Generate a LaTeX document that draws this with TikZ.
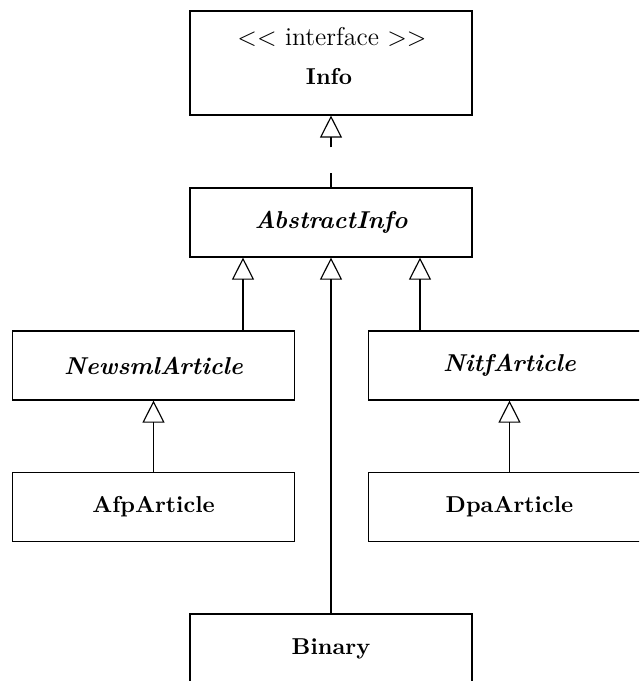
\documentclass[tikz,border=0pt]{standalone}
\usetikzlibrary{arrows.meta,calc}
\begin{document}
\begin{tikzpicture}[
  x=0.4348pt, y=-0.4348pt,
  line width=0.5pt,
  classbox/.style={draw, rectangle, minimum width=122.6pt, minimum height=30pt, inner sep=0pt, align=center},
  ifacebox/.style={classbox, minimum height=45.2pt},
  abstractname/.style={font=\fontsize{10.6pt}{13pt}\selectfont\bfseries\itshape},
  concretename/.style={font=\bfseries},
  stereotype/.style={font=\fontsize{11.2pt}{13pt}\selectfont, inner sep=0pt},
  inherit/.style={-{Triangle[open, length=9.6pt, width=9.6pt]}},
  realize/.style={inherit, dash pattern=on 6.1pt off 11.3pt}
]
\useasboundingbox (0,0) rectangle (639,681);
\clip (0,0) rectangle (639,681);

% interface box with its stereotype and name
\node[ifacebox] (info) at (331,63) {};
\node[stereotype] (infoStereo) at (332,37) {$<<$ interface $>>$};
\node[concretename, inner sep=0pt] (infoName) at (329,77) {Info};

% class boxes
\node[classbox, abstractname] (abs) at (331,222.5) {AbstractInfo};
\node[classbox, abstractname] (newsml) at (153.5,365.5) {NewsmlArticle};
\node[classbox, abstractname] (nitf) at (509.5,365.5) {NitfArticle};
\node[classbox, concretename] (afp) at (153.5,507) {AfpArticle};
\node[classbox, concretename] (dpa) at (509.5,507) {DpaArticle};
\node[classbox, concretename] (binary) at (331,648.5) {Binary};

% attachment points on the bottom of AbstractInfo
\coordinate (absL) at ($(abs.south)+(-88,0)$);
\coordinate (absR) at ($(abs.south)+(89,0)$);

% realization and generalization connectors
\draw[realize] (abs.north) -- (info.south);
\draw[inherit] (newsml.north -| absL) -- (absL);
\draw[inherit] (nitf.north -| absR) -- (absR);
\draw[inherit] (binary.north) -- (abs.south);
\draw[inherit] (afp.north) -- (newsml.south);
\draw[inherit] (dpa.north) -- (nitf.south);
\end{tikzpicture}
\end{document}
